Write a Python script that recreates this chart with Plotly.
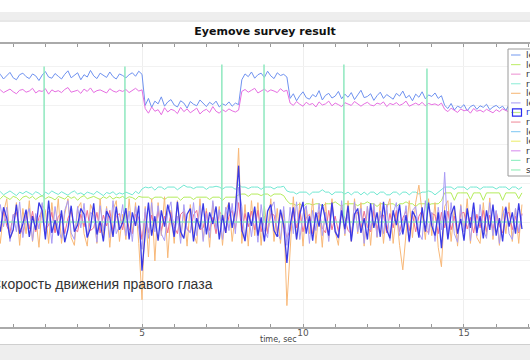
import plotly.graph_objects as go

# sampling of the recorded series (seconds)
T0 = 0.5
STEP = 0.1

# ---- position traces (value x 100) ----
left_eye_x = [
    372,380,368,377,385,371,366,379,383,374, 369,381,376,364,378,387,373,370,382,375,
    368,380,389,371,377,384,366,379,373,390, 376,369,383,378,372,386,374,368,381,377,
    371,379,384,375,388,380,
    300,318,295,311,304,322,298,309,315,301, 296,312,306,293,310,303,299,314,305,297,
    308,302,311,296,304,300,309,298,306,302,
    366,381,374,386,370,379,383,372,388,376, 369,384,377,380,373,
    318,330,312,325,335,320,316,328,322,338, 314,326,331,319,324,336,317,329,321,333,
    315,327,339,320,323,330,313,325,334,318, 328,322,316,331,324,337,319,326,312,329,
    321,335,317,327,323,332,318,325,
    300,292,305,288,298,294,302,286,297,301, 290,299,295,303,289,296,300,293,298,287,
    302,295,291,299,294,
]
right_eye_x = [
    336,340,333,338,342,335,330,339,341,334, 337,344,332,338,336,343,329,340,335,338,
    333,341,346,334,337,339,331,342,336,345, 333,338,340,335,332,343,337,334,339,336,
    341,333,338,344,337,340,
    292,280,296,285,289,276,294,283,290,287, 279,295,284,291,281,288,293,278,286,290,
    282,297,285,280,289,284,291,286,283,288,
    336,341,334,339,344,332,338,342,335,340, 337,333,343,336,339,
    306,300,310,303,298,308,302,305,296,309, 301,304,311,299,306,302,297,307,303,300,
    310,305,298,304,308,301,299,306,303,309, 297,305,302,307,300,304,311,298,303,306,
    301,308,299,305,302,304,300,306,
    290,284,293,287,282,291,286,289,280,292, 285,288,283,290,286,281,289,284,291,287,
    283,288,285,290,286,
]
right_eye_y = [
    72,78,70,76,80,74,68,77,73,79,
    75,70,78,74,66,77,72,80,75,71,
    78,73,69,76,80,72,75,70,77,74,
    71,79,74,68,76,73,78,70,75,72,
    77,74,70,79,73,85,90,88,90,82,
    90,90,84,90,90,90,83,90,95,90,
    90,86,90,90,90,84,90,90,92,90,
    85,90,90,90,84,96,90,90,86,90,
    90,90,84,90,90,90,85,90,90,92,
    80,77,77,72,77,77,77,70,77,77,
    77,83,77,77,70,77,77,77,72,77,
    70,77,77,70,77,70,77,77,70,77,
    77,70,70,77,77,70,77,77,70,77,
    77,72,77,77,80,77,70,77,85,90,
    90,90,84,90,90,90,83,90,90,90,
    84,90,90,90,90,85,90,90,90,83,
    90,90,84,90,
]
left_eye_y = [
    65,60,68,62,58,66,63,55,64,67,
    61,66,58,64,68,60,65,62,57,66,
    63,59,67,61,65,56,64,68,60,63,
    66,62,58,65,61,67,59,64,62,66,
    60,65,63,58,66,64,64,64,58,64,
    64,64,58,64,64,64,64,56,64,64,
    64,58,64,64,64,64,58,64,64,64,
    56,64,64,64,64,70,72,72,66,72,
    72,72,68,72,72,66,72,72,72,68,
    55,47,47,42,47,40,47,47,44,47,
    47,40,47,47,47,52,47,40,47,47,
    47,47,42,47,47,52,47,47,40,47,
    47,44,47,47,40,47,47,52,47,47,
    40,47,47,47,44,47,47,47,55,75,
    75,75,56,75,75,75,75,58,75,75,
    75,56,75,75,75,75,75,56,75,75,
    75,75,60,75,
]

# ---- velocity traces (value x 100) ----
left_speed_x = [
    40,-55,25,60,-45,-20,50,-60,35,-30,
    55,-50,15,-65,45,30,-55,50,-25,60,
    -55,20,60,-40,-60,35,50,-30,-62,45,
    25,-55,60,-35,40,-65,30,55,-50,20,
    -45,60,-30,50,-55,-200,40,-90,60,-100,
    50,-35,65,-92,30,-55,55,-40,25,-62,
    45,-30,-55,60,-45,35,-65,50,-20,40,
    -60,30,50,-50,20,190,-55,45,-62,55,
    -35,50,-60,40,-25,60,-50,35,-55,30,
    -215,-60,65,-45,50,-62,40,-30,60,-55,
    30,-65,50,-40,60,-25,-60,45,-35,55,
    -50,60,-30,50,-62,40,-60,45,-40,50,
    -55,35,60,-55,25,-60,-123,-30,55,-40,
    50,95,30,-45,60,-35,50,-65,-115,40,
    55,-50,35,-62,45,-25,60,-55,30,-40,
    -55,50,-35,62,-45,25,-60,40,-30,50,
    -50,35,-55,45,
]
left_speed_y = [
    -30,45,-12,38,-50,20,-25,52,-40,15,
    35,-48,22,-18,50,-35,28,-55,40,-20,
    -42,30,55,-28,-45,40,-15,48,-38,25,
    18,-52,42,-22,35,-40,55,-30,-10,45,
    -35,28,-50,40,-18,-70,35,-42,50,-25,
    42,-30,-48,25,52,-38,15,-55,45,-20,
    -28,50,-35,42,-50,22,-40,55,-18,32,
    -45,38,-22,48,-30,90,40,-50,25,-38,
    30,-52,45,-20,-40,35,52,-28,-45,40,
    -60,38,-30,52,-45,20,42,-55,30,-22,
    48,-35,25,-50,40,-18,-42,55,-30,20,
    -45,52,-25,35,-55,40,-20,48,-38,28,
    -30,45,-48,22,50,-35,-15,42,-52,30,
    40,-28,-45,55,-32,25,-50,38,-20,128,
    -40,50,-30,-52,42,-25,35,-48,28,-35,
    45,-20,-42,50,-35,30,-55,22,40,-30,
    -45,35,-25,20,
]
right_speed = [
    20,-25,38,10,-42,-20,45,-30,-5,32,
    -38,15,-20,50,30,-45,55,-28,5,-35,
    30,-52,-18,42,-25,-8,35,20,-40,-15,
    48,-32,2,-50,28,12,-38,40,-20,-2,
    36,-45,25,-10,42,-125,-30,50,-35,15,
    -48,30,-12,45,10,-38,52,-25,-42,20,
    35,-50,10,-18,48,-32,25,-5,40,-45,
    18,-28,50,-15,30,145,-20,-48,25,-10,
    40,-35,12,-50,28,45,-22,-38,32,-8,
    -105,-10,38,-45,20,52,-30,15,-48,25,
    -12,46,5,-35,50,-25,-40,30,-18,42,
    -50,20,35,-28,10,-45,48,-15,25,-38,
    52,-20,-42,30,-8,45,-32,18,-50,28,
    12,-40,38,-25,50,-10,-35,25,-67,30,
    -45,20,42,-30,8,-48,35,-15,50,-28,
    15,-42,30,-20,45,-35,10,-50,38,-12,
    25,-30,48,-18,
]
right_speed_y = [
    15,-22,30,-10,-28,18,25,-15,-30,20,
    -18,28,-25,12,30,-20,-8,25,-28,15,
    22,-30,10,28,-18,-25,20,-12,30,-22,
    -15,25,-28,18,-10,30,-25,15,22,-20,
    28,-18,-30,20,12,-45,25,-28,18,-15,
    30,-22,15,-28,25,-12,-30,20,28,-18,
    -25,18,30,-20,-15,28,-22,12,-30,25,
    20,-28,15,30,-18,50,-25,22,-12,28,
    -20,30,-25,15,-30,22,18,-28,25,-10,
    -40,-22,28,-15,30,-25,12,20,-30,18,
    25,-15,-28,30,-20,15,-25,28,10,-22,
    -30,20,25,-18,28,-12,-25,30,-20,15,
    18,-28,22,-15,30,-25,10,28,-22,20,
    -25,15,30,-20,-28,22,18,-30,25,-15,
    28,-20,15,-30,22,25,-18,12,-28,20,
    -15,30,-25,18,-22,28,-10,-28,20,25,
    -20,15,-28,22,
]

# ---- stimulus marks ----
stim_time = [0.5, 1.96, 1.96, 1.96, 4.47, 4.47, 4.47, 7.48, 7.48, 7.48,
             8.79, 8.79, 8.79, 11.27, 11.27, 11.27, 13.85, 13.85, 13.85, 16.8]
stim_value = [0, 0, 400, 0, 0, 400, 0, 0, 405, 0,
              0, 405, 0, 0, 405, 0, 0, 395, 0, 0]

legend_names = ["left eye X", "left eye Y", "right eye X", "right eye Y",
                "left eye speed X", "left eye speed Y", "right eye speed",
                "right eye speed Y", "left pupil", "left blink",
                "right pupil", "right blink", "stimulus"]
legend_colors = ["#8aaaf2", "#c6ef7c", "#f0a0d8", "#9cefdc", "#f8c088", "#b4a8f5",
                 "#c4e890", "#f29aa8", "#92cff5", "#eef07e", "#dc9cf0", "#98efc6",
                 "#98efbc"]


def times(values):
    return [T0 + STEP * i for i in range(len(values))]


fig = go.Figure()
fig.add_trace(go.Scatter(x=times(left_eye_x), y=left_eye_x, mode="lines",
                         line=dict(color="#6f92f0", width=1), name=legend_names[0]))
fig.add_trace(go.Scatter(x=times(right_eye_x), y=right_eye_x, mode="lines",
                         line=dict(color="#e66ee2", width=1), name=legend_names[2]))
fig.add_trace(go.Scatter(x=times(right_eye_y), y=right_eye_y, mode="lines",
                         line=dict(color="#72e8d2", width=1), name=legend_names[3]))
fig.add_trace(go.Scatter(x=times(left_eye_y), y=left_eye_y, mode="lines",
                         line=dict(color="#b4ec5c", width=1), name=legend_names[1]))
fig.add_trace(go.Scatter(x=times(left_speed_x), y=left_speed_x, mode="lines",
                         line=dict(color="#f8b878", width=1), name=legend_names[4]))
fig.add_trace(go.Scatter(x=times(right_speed_y), y=right_speed_y, mode="lines",
                         line=dict(color="#f07090", width=1), name=legend_names[7]))
fig.add_trace(go.Scatter(x=times(left_speed_y), y=left_speed_y, mode="lines",
                         line=dict(color="#a99cf5", width=1), name=legend_names[5]))
fig.add_trace(go.Scatter(x=stim_time, y=stim_value, mode="lines",
                         line=dict(color="#8fe8bf", width=1.5), name=legend_names[12]))
fig.add_trace(go.Scatter(x=times(right_speed), y=right_speed, mode="lines",
                         line=dict(color="#3a3ae6", width=1.3), name=legend_names[6]))

# pixel helpers for the frame decoration (plot area: y 44..327, x 0..530)
W, H, TOP, BOT = 530, 360, 44, 327


def px(x):
    return x / W


def py(y):
    return (BOT - y) / (BOT - TOP)


shapes = [
    dict(type="rect", xref="paper", yref="paper", x0=0, x1=1, y0=py(20), y1=py(12),
         fillcolor="#eeeeee", line=dict(width=0), layer="above"),
    dict(type="line", xref="paper", yref="paper", x0=0, x1=1, y0=py(21), y1=py(21),
         line=dict(color="#cfcfcf", width=1), layer="above"),
    dict(type="rect", xref="paper", yref="paper", x0=0, x1=1, y0=py(361), y1=py(345),
         fillcolor="#eeeeee", line=dict(width=0), layer="above"),
    dict(type="line", xref="paper", yref="paper", x0=0, x1=1, y0=py(344.5), y1=py(344.5),
         line=dict(color="#cfcfcf", width=1), layer="above"),
    dict(type="rect", xref="paper", yref="paper", x0=px(508), x1=px(545), y0=py(176), y1=py(49),
         fillcolor="white", line=dict(color="#9a9a9a", width=1), layer="above"),
]
annotations = []
for k, (nm, col) in enumerate(zip(legend_names, legend_colors)):
    yy = 55 + k * 9.58
    shapes.append(dict(type="line", xref="paper", yref="paper", x0=px(511), x1=px(520.5),
                       y0=py(yy), y1=py(yy), line=dict(color=col, width=1.2), layer="above"))
    if k == 6:
        shapes.append(dict(type="rect", xref="paper", yref="paper", x0=px(512.5), x1=px(521.5),
                           y0=py(yy + 3.6), y1=py(yy - 3.6),
                           line=dict(color="#2a2af0", width=1.2), layer="above"))
    annotations.append(dict(x=px(523.5), y=py(yy), xref="paper", yref="paper", text=nm,
                            showarrow=False, xanchor="left", yanchor="middle",
                            font=dict(family="DejaVu Sans", size=9,
                                      color="#2233dd" if k == 6 else "#333333")))

annotations.append(dict(x=px(215), y=py(284), xref="paper", yref="paper",
                        text="Скорость движения правого глаза", showarrow=False,
                        xanchor="right", yanchor="middle",
                        font=dict(family="Liberation Sans", size=14, color="#333333")))
annotations.append(dict(x=px(278), y=py(339.5), xref="paper", yref="paper",
                        text="time, sec", showarrow=False, xanchor="center", yanchor="middle",
                        font=dict(family="DejaVu Sans", size=8, color="#444444")))

fig.update_layout(
    width=W, height=H,
    margin=dict(l=0, r=0, t=TOP, b=H - BOT),
    paper_bgcolor="white", plot_bgcolor="white",
    showlegend=False,
    title=dict(text="<b>Eyemove survey result</b>", x=0.5, xanchor="center",
               y=1 - 31 / H, yanchor="middle",
               font=dict(family="DejaVu Sans", size=11, color="#111111")),
    shapes=shapes, annotations=annotations,
)
fig.update_xaxes(
    range=[0.59, 17.05], tickvals=[5, 10, 15], ticktext=["5", "10", "15"],
    ticks="inside", ticklen=3, tickcolor="#999999", ticklabelstandoff=-4,
    showline=True, linecolor="#aaaaaa", linewidth=1.5, mirror="ticks",
    showgrid=True, gridcolor="#eeeeee", zeroline=False,
    tickfont=dict(family="DejaVu Sans", size=9, color="#555555"),
    minor=dict(dtick=1, tick0=0, ticks="inside", ticklen=3, tickcolor="#999999", showgrid=False),
    automargin=False,
)
fig.update_yaxes(
    range=[-270, 458], dtick=100, tick0=0, showgrid=True, gridcolor="#f2f2f2",
    zeroline=False, showticklabels=False, showline=False, ticks="", automargin=False,
)

fig.write_html("out.html", config={"displayModeBar": False},
               post_script="document.body.style.margin='0';document.body.style.overflow='hidden';")
